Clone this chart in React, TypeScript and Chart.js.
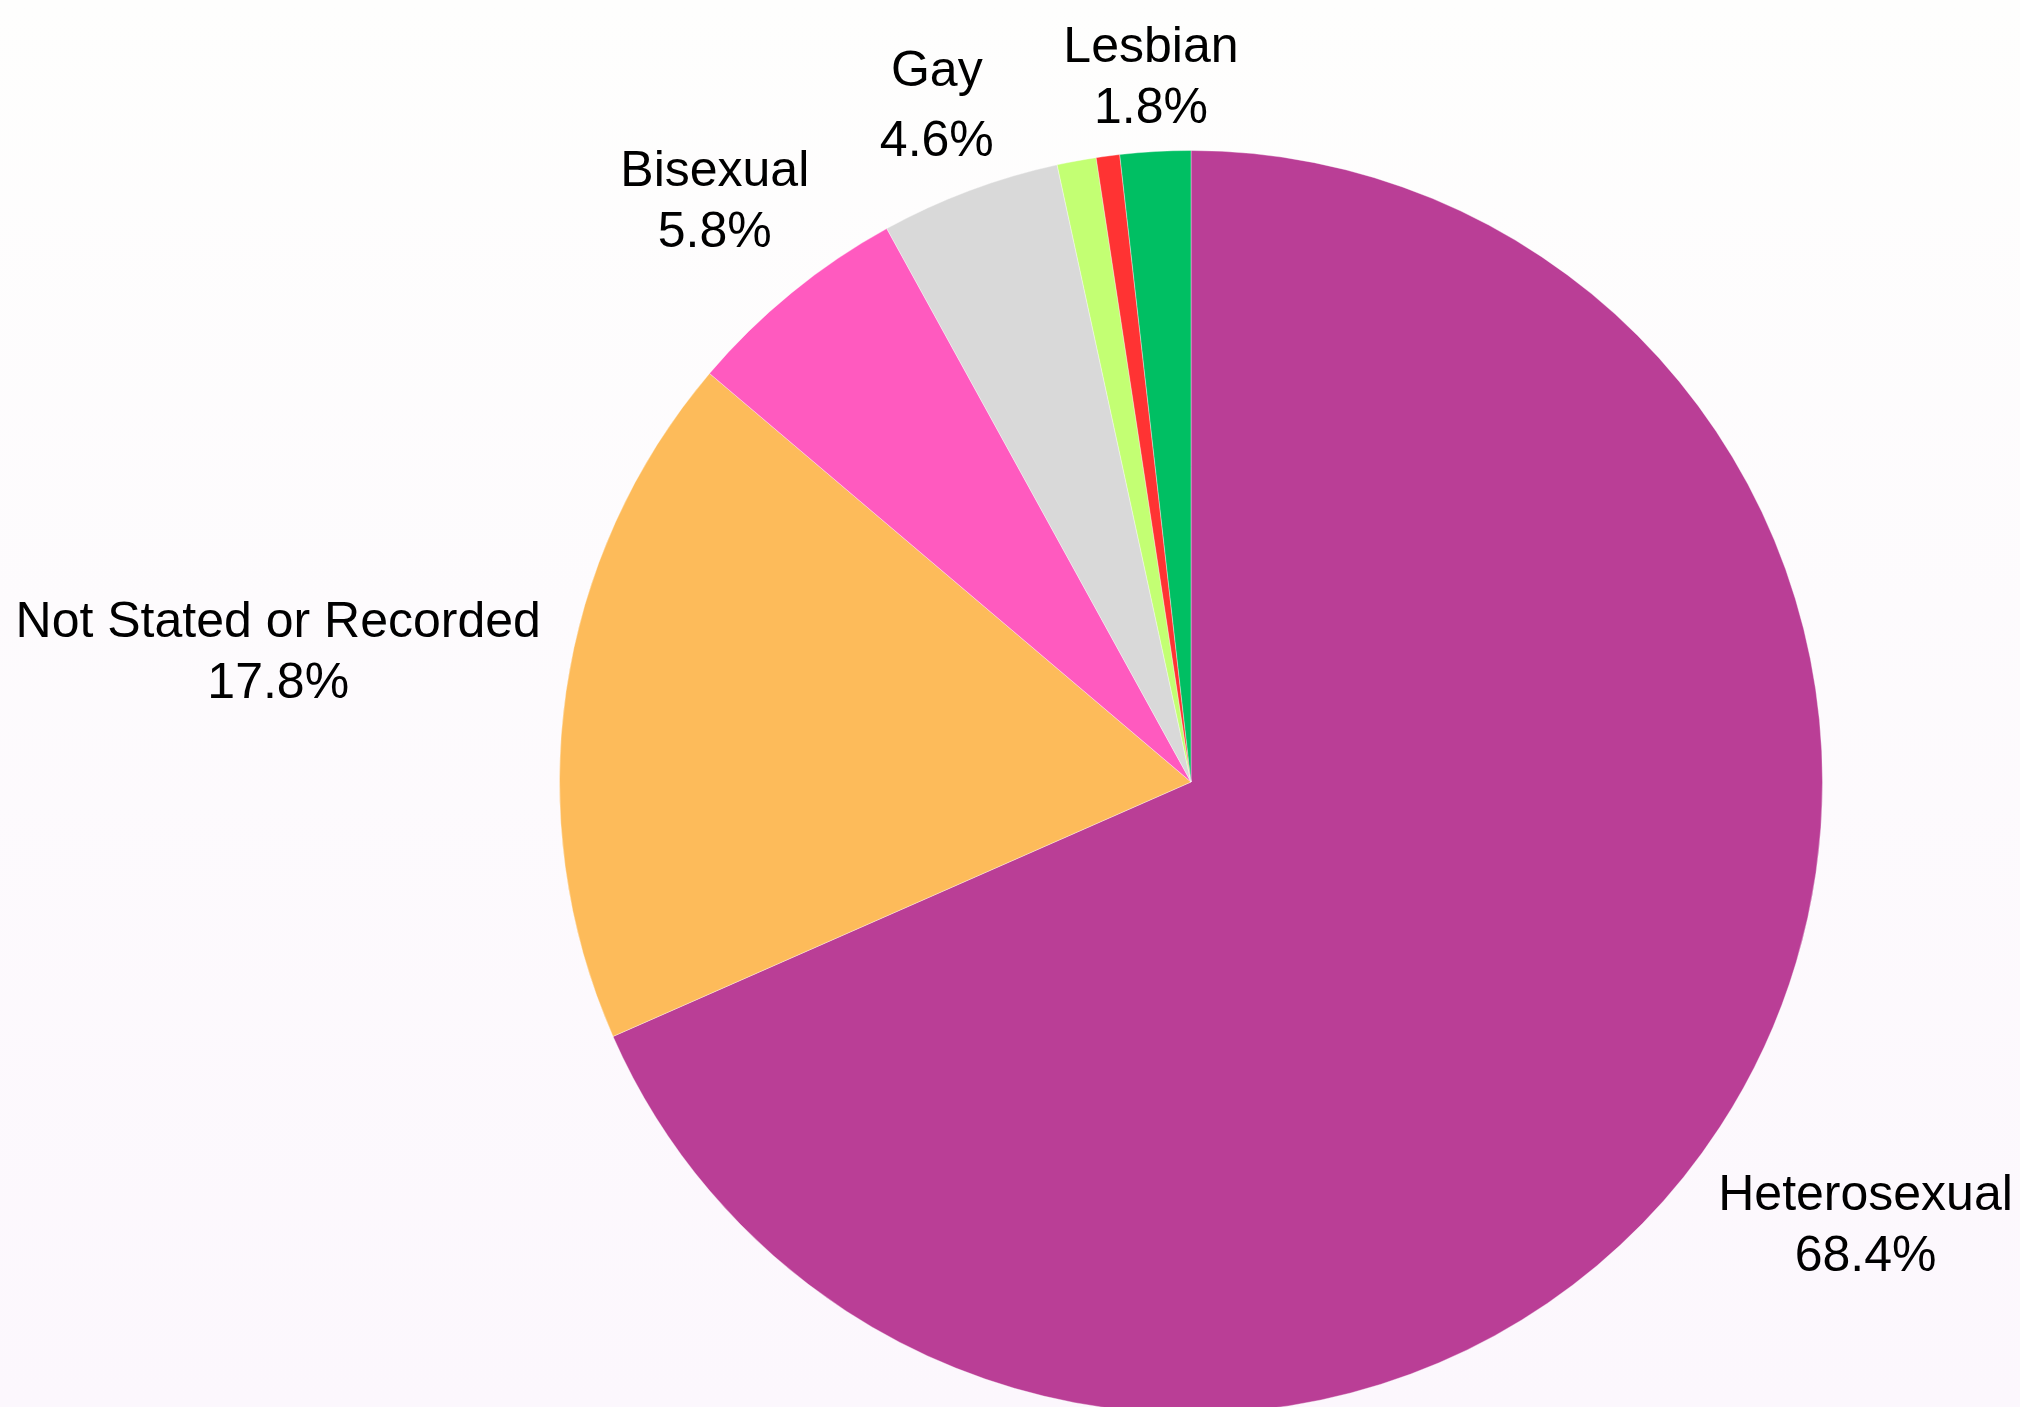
import React, { useEffect, useRef } from "react";
import { Chart, registerables } from "chart.js";

Chart.register(...registerables);

const categories = [
  "Heterosexual",
  "Not Stated or Recorded",
  "Bisexual",
  "Gay",
  "Other",
  "Prefer Not to Say",
  "Lesbian",
];
const values = [68.4, 17.8, 5.8, 4.6, 1.0, 0.6, 1.8];
const showLabel = [true, true, true, true, false, false, true];
const sliceColors = [
  "#BA3E96",
  "#FDBB5A",
  "#FF5ABF",
  "#D9D9D9",
  "#C3FF73",
  "#FF3333",
  "#00BF63",
];

const FONT_SIZE = 50;
const FONT = `${FONT_SIZE}px "Liberation Sans", Arial, Helvetica, sans-serif`;

const outsideLabels = {
  id: "outsideLabels",
  afterDatasetsDraw(chart: any) {
    const ctx = chart.ctx;
    const meta = chart.getDatasetMeta(0);
    ctx.save();
    ctx.font = FONT;
    ctx.fillStyle = "#000";
    ctx.textAlign = "center";
    ctx.textBaseline = "alphabetic";
    const capH = 36;
    const baseGap = 61;
    meta.data.forEach((arc: any, i: number) => {
      if (!showLabel[i]) return;
      const { x, y, startAngle, endAngle, outerRadius } = arc.getProps(
        ["x", "y", "startAngle", "endAngle", "outerRadius"],
        true
      );
      const mid = (startAngle + endAngle) / 2;
      const dx = Math.cos(mid);
      const dy = Math.sin(mid);
      const l1 = String(chart.data.labels[i]);
      const l2 = Number(chart.data.datasets[0].data[i]).toFixed(1) + "%";
      const m1 = ctx.measureText(l1);
      const m2 = ctx.measureText(l2);
      const desc = Math.max(0, (m1.actualBoundingBoxDescent || 0) - 1);
      const lineGap = baseGap + desc;
      const blockH = lineGap + capH;
      const w = Math.max(m1.width, m2.width);
      const support = (w / 2) * Math.abs(dx) + (blockH / 2) * Math.abs(dy);
      const d = outerRadius + 24 + support;
      const cx = x + dx * d;
      const cy = y + dy * d;
      const top = cy - blockH / 2;
      ctx.fillText(l1, cx, top + capH);
      ctx.fillText(l2, cx, top + capH + lineGap);
    });
    ctx.restore();
  },
};

export default function App() {
  const ref = useRef<HTMLCanvasElement | null>(null);

  useEffect(() => {
    if (!ref.current) return;
    const chart = new Chart(ref.current, {
      type: "pie",
      data: {
        labels: categories,
        datasets: [
          {
            data: values,
            backgroundColor: sliceColors,
            borderColor: "rgba(255,255,255,0.35)",
            borderWidth: 1,
          },
        ],
      },
      options: {
        responsive: false,
        animation: false,
        devicePixelRatio: 1,
        layout: { padding: { top: 150, bottom: 86, left: 559, right: 197 } },
        plugins: {
          legend: { display: false },
          tooltip: { enabled: false },
          title: { display: false },
        },
      },
      plugins: [outsideLabels],
    });
    return () => chart.destroy();
  }, []);

  return (
    <div
      style={{
        position: "fixed",
        left: 0,
        top: 0,
        width: 2020,
        height: 1407,
        overflow: "hidden",
        background: "linear-gradient(to bottom, #fefefd 0%, #fcf7fd 100%)",
      }}
    >
      <canvas ref={ref} width={2020} height={1500} style={{ display: "block" }} />
    </div>
  );
}
